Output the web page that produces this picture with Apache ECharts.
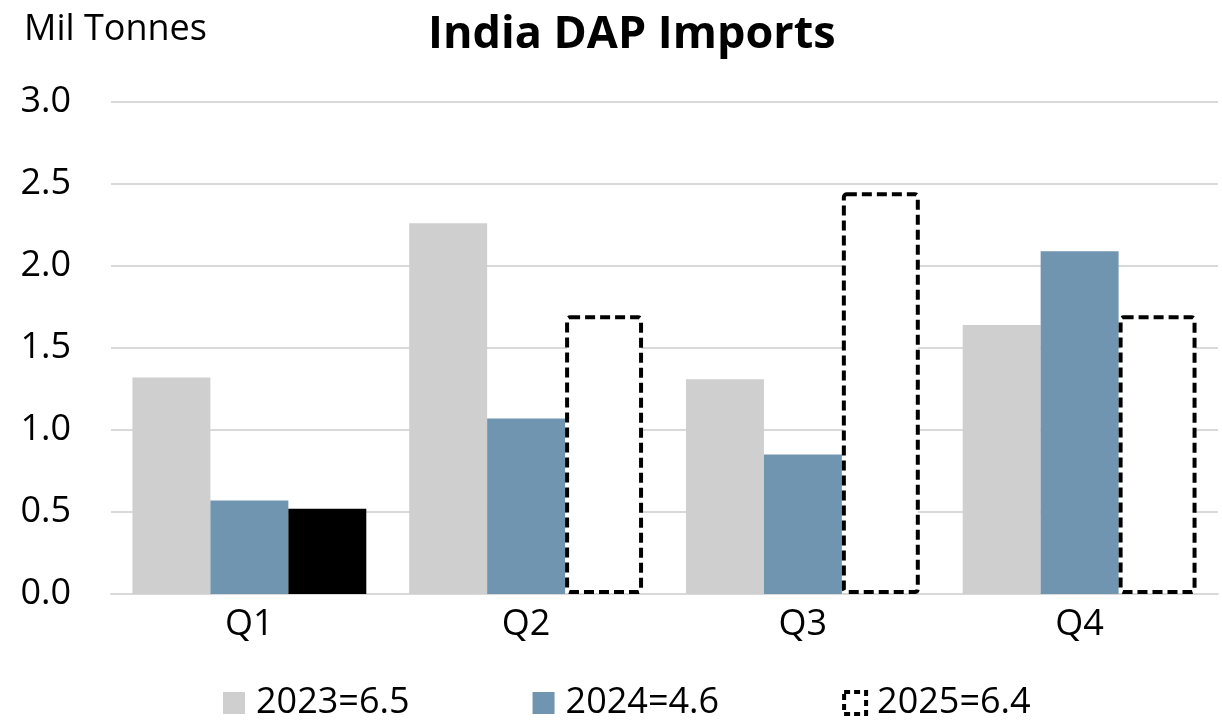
<!DOCTYPE html>
<html>
<head>
<meta charset="utf-8">
<script src="https://cdn.jsdelivr.net/npm/echarts@6/dist/echarts.min.js"></script>
<style>
  html, body { margin: 0; padding: 0; background: #fff; }
  #chart { width: 1222px; height: 720px; }
</style>
</head>
<body>
<div id="chart"></div>
<script>
const quarters = ['Q1', 'Q2', 'Q3', 'Q4']
const imports2023 = [1.32, 2.26, 1.31, 1.64]
const imports2024 = [0.57, 1.07, 0.85, 2.09]
const imports2025 = [0.52, 1.70, 2.45, 1.70]
const seriesNames = ['2023=6.5', '2024=4.6', '2025=6.4']

const FONT = '"Open Sans", "Noto Sans", sans-serif'
const dashedStyle = {
  color: '#fff',
  borderColor: '#000',
  borderWidth: 4,
  borderType: [10, 5],
  borderRadius: 3,
}

const chart = echarts.init(document.getElementById('chart'))

chart.setOption({
  animation: false,
  textStyle: { fontFamily: FONT },
  title: {
    text: 'India DAP Imports',
    left: 423,
    top: 8,
    textStyle: { fontFamily: FONT, fontSize: 45, fontWeight: 'bold', color: '#000' },
  },
  grid: { left: 111, right: 4, top: 102, bottom: 126 },
  legend: {
    top: 680,
    left: 218,
    icon: 'rect',
    itemWidth: 22,
    itemHeight: 22,
    itemGap: 123,
    textStyle: { fontFamily: FONT, fontSize: 36, color: '#000', padding: [0, 0, 0, 6] },
    data: [
      { name: seriesNames[0] },
      { name: seriesNames[1] },
      { name: seriesNames[2], itemStyle: { color: '#fff', borderColor: '#000', borderWidth: 4, borderType: [6, 4] } },
    ],
  },
  xAxis: {
    type: 'category',
    data: quarters,
    axisTick: { show: false },
    axisLine: { lineStyle: { color: '#d9d9d9', width: 2 } },
    axisLabel: { color: '#000', fontSize: 36, fontFamily: FONT, margin: 13 },
  },
  yAxis: {
    type: 'value',
    name: 'Mil Tonnes',
    nameLocation: 'end',
    nameGap: 54,
    nameTextStyle: { color: '#000', fontSize: 36, fontFamily: FONT, align: 'left', padding: [0, 0, 0, -87] },
    min: 0,
    max: 3,
    interval: 0.5,
    axisLine: { show: false },
    axisTick: { show: false },
    splitLine: { lineStyle: { color: '#d9d9d9', width: 2 } },
    axisLabel: {
      color: '#000',
      fontSize: 36,
      fontFamily: FONT,
      margin: 40,
      formatter: (v) => v.toFixed(1),
    },
  },
  series: [
    {
      name: seriesNames[0],
      type: 'bar',
      barGap: '0%',
      barCategoryGap: '15.5%',
      itemStyle: { color: '#d0cfd0' },
      data: imports2023,
    },
    {
      name: seriesNames[1],
      type: 'bar',
      itemStyle: { color: '#6f95b0' },
      data: imports2024,
    },
    {
      name: seriesNames[2],
      type: 'bar',
      itemStyle: dashedStyle,
      data: imports2025.map((v, i) =>
        i === 0
          ? { value: v, itemStyle: { color: '#000', borderWidth: 0, borderRadius: 0 } }
          : v
      ),
    },
  ],
})
</script>
</body>
</html>
